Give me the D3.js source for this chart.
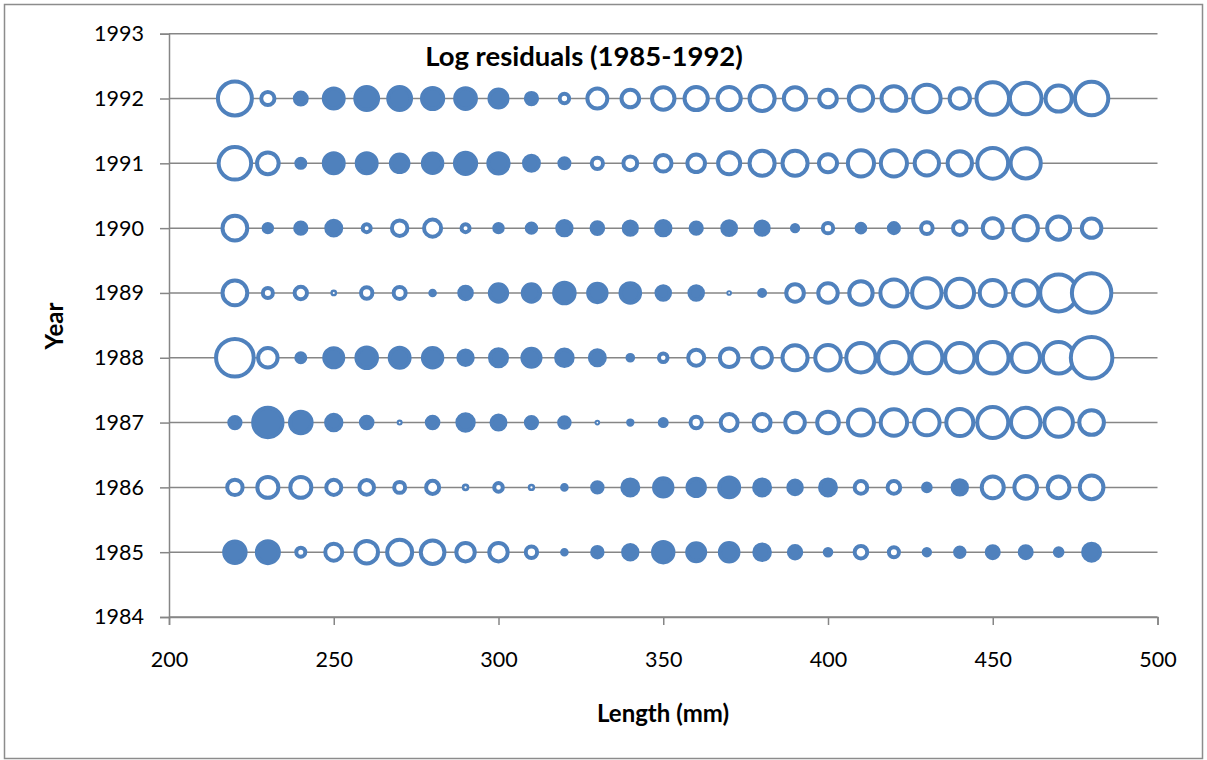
<!DOCTYPE html>
<html>
<head>
<meta charset="utf-8">
<script src="https://cdn.jsdelivr.net/npm/d3@7"></script>
<style>
  body { margin: 0; background: #fff; }
  svg { display: block; font-family: Lato, "Open Sans", sans-serif; }
</style>
</head>
<body>
<svg id="chart" width="1207" height="760"></svg>
<script>
// lengths (mm) along the x axis
var lengths = [220, 230, 240, 250, 260, 270, 280, 290, 300, 310, 320, 330, 340, 350,
               360, 370, 380, 390, 400, 410, 420, 430, 440, 450, 460, 470, 480];
var years = [1992, 1991, 1990, 1989, 1988, 1987, 1986, 1985];
var yearTicks = [1984, 1985, 1986, 1987, 1988, 1989, 1990, 1991, 1992, 1993];
var lengthTicks = [200, 250, 300, 350, 400, 450, 500];

// log residuals per year (negative = filled, positive = open)
var res1992 = [0.68, 0.14, -0.12, -0.27, -0.34, -0.34, -0.30, -0.29, -0.23, -0.11, 0.085, 0.27, 0.22, 0.33,
               0.35, 0.35, 0.40, 0.33, 0.22, 0.38, 0.39, 0.47, 0.28, 0.63, 0.60, 0.43, 0.66];
var res1991 = [0.63, 0.31, -0.08, -0.27, -0.27, -0.22, -0.26, -0.30, -0.28, -0.17, -0.093, 0.11, 0.15, 0.20,
               0.22, 0.32, 0.40, 0.40, 0.23, 0.43, 0.43, 0.38, 0.38, 0.57, 0.55, null, null];
var res1990 = [0.39, -0.073, -0.11, -0.17, 0.068, 0.18, 0.21, 0.068, -0.073, -0.085, -0.16, -0.115, -0.14, -0.16,
               -0.11, -0.15, -0.14, -0.05, 0.098, -0.075, -0.093, 0.115, 0.146, 0.27, 0.38, 0.345, 0.26];
var res1989 = [0.39, 0.093, 0.127, 0.021, 0.112, 0.121, -0.035, -0.13, -0.216, -0.216, -0.286, -0.237, -0.263, -0.146,
               -0.146, 0.015, -0.047, 0.22, 0.26, 0.355, 0.454, 0.527, 0.50, 0.425, 0.41, 0.79, 0.89];
var res1988 = [0.82, 0.26, -0.08, -0.25, -0.286, -0.27, -0.26, -0.16, -0.21, -0.23, -0.20, -0.17, -0.044, 0.075,
               0.19, 0.24, 0.263, 0.40, 0.41, 0.527, 0.59, 0.58, 0.527, 0.60, 0.50, 0.60, 0.98];
var res1987 = [-0.11, -0.527, -0.31, -0.178, -0.115, 0.017, -0.115, -0.197, -0.153, -0.11, -0.10, 0.015, -0.033, -0.057,
               0.112, 0.208, 0.208, 0.263, 0.31, 0.425, 0.437, 0.41, 0.454, 0.58, 0.527, 0.50, 0.387];
var res1986 = [0.178, 0.295, 0.295, 0.171, 0.163, 0.106, 0.137, 0.027, 0.075, 0.026, -0.035, -0.098, -0.189, -0.237,
               -0.216, -0.272, -0.189, -0.146, -0.189, 0.13, 0.13, -0.064, -0.16, 0.319, 0.334, 0.31, 0.36];
var res1985 = [-0.305, -0.319, 0.08, 0.208, 0.334, 0.397, 0.36, 0.237, 0.237, 0.112, -0.035, -0.098, -0.16, -0.281,
               -0.229, -0.241, -0.182, -0.127, -0.053, 0.13, 0.093, -0.051, -0.085, -0.121, -0.121, -0.064, -0.208];

var residuals = [res1992, res1991, res1990, res1989, res1988, res1987, res1986, res1985];

var svg = d3.select("#chart");
var blue = "#4F81BD", grey = "#868686";

// outer frame
svg.append("rect").attr("x", 4.5).attr("y", 4.5).attr("width", 1198).attr("height", 754)
  .attr("fill", "#fff").attr("stroke", "#8c8c8c").attr("stroke-width", 1.5);

var x = d3.scaleLinear().domain([200, 500]).range([169, 1157.5]);
var y = d3.scaleLinear().domain([1984, 1993]).range([617, 33.7]);
var r = d3.scaleSqrt().domain([0, 1]).range([0, 23]);

// horizontal gridlines
svg.append("g").selectAll("line").data(yearTicks).enter().append("line")
  .attr("x1", x(200)).attr("x2", x(500))
  .attr("y1", function(d){ return y(d); }).attr("y2", function(d){ return y(d); })
  .attr("stroke", grey).attr("stroke-width", 1.5);

// axes
var yAxis = svg.append("g").attr("transform", "translate(" + x(200) + ",0)")
  .call(d3.axisLeft(y).tickValues(yearTicks).tickSize(9).tickPadding(16).tickFormat(d3.format("d")));
var xAxis = svg.append("g").attr("transform", "translate(0," + y(1984) + ")")
  .call(d3.axisBottom(x).tickValues(lengthTicks).tickSize(8).tickPadding(27).tickFormat(d3.format("d")));
[yAxis, xAxis].forEach(function(g){
  g.select(".domain").attr("stroke", grey).attr("stroke-width", 1.5);
  g.selectAll(".tick line").attr("stroke", grey).attr("stroke-width", 1.5);
  g.selectAll(".tick text").attr("fill", "#000").attr("font-size", 21.5)
    .attr("font-family", "Lato, 'Open Sans', sans-serif");
});

// bubbles
var pts = [];
years.forEach(function(yr, i){
  residuals[i].forEach(function(v, j){
    if (v !== null) pts.push({ year: yr, len: lengths[j], value: v });
  });
});

svg.append("g").selectAll("circle").data(pts).enter().append("circle")
  .attr("cx", function(d){ return x(d.len); })
  .attr("cy", function(d){ return y(d.year); })
  .each(function(d){
    var ro = r(Math.abs(d.value));
    var sw = Math.min(4, ro * 0.7);
    d3.select(this)
      .attr("r", ro - sw / 2)
      .attr("stroke", blue)
      .attr("stroke-width", sw)
      .attr("fill", d.value < 0 ? blue : "#fff");
  });

// titles
svg.append("text").attr("x", 584).attr("y", 66).attr("text-anchor", "middle")
  .attr("font-size", 27.5).attr("font-weight", "bold").text("Log residuals (1985-1992)");
svg.append("text").attr("x", 663).attr("y", 722).attr("text-anchor", "middle")
  .attr("font-size", 24).attr("font-weight", "bold").text("Length (mm)");
svg.append("text").attr("transform", "translate(63,326) rotate(-90)").attr("text-anchor", "middle")
  .attr("font-size", 24).attr("font-weight", "bold").text("Year");
</script>
</body>
</html>
